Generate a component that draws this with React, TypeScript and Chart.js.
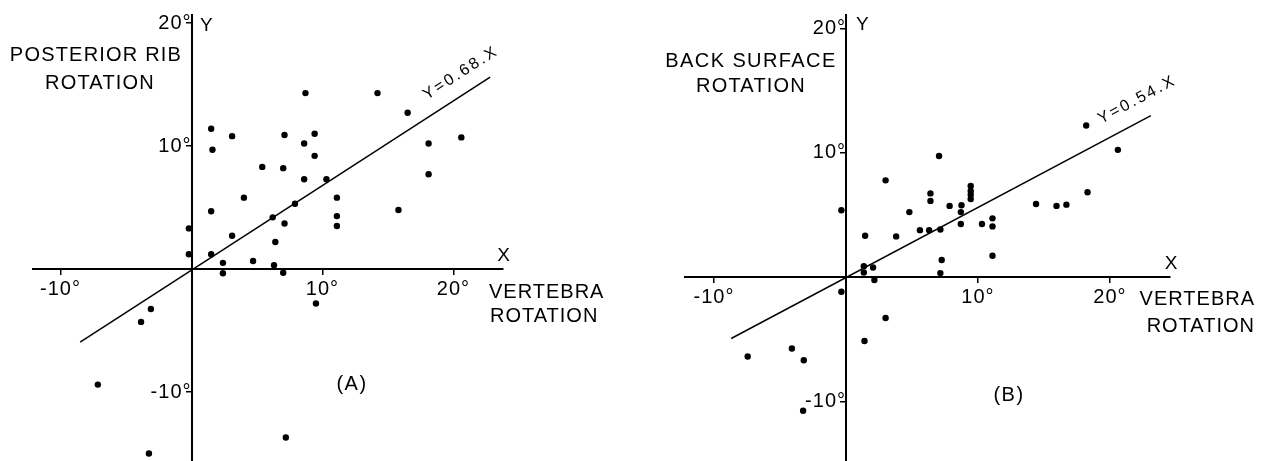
import { useEffect, useRef } from 'react';
import { Chart, registerables } from 'chart.js';

Chart.register(...registerables);

const FONT = '"Liberation Sans", Arial, Helvetica, sans-serif';

// ---- Panel A: vertebra rotation (x) vs posterior rib rotation (y)
const ribVertebra = [8.7, 1.5, 3.1, 7.1, 9.4, 1.6, 8.6, 9.4, 5.4, 7.0, 8.6, 10.3, 4.0, 11.1, 1.5, 7.9, 6.2, 7.1, 11.1, 11.1, -0.2, 3.1, 6.4, -0.2, 1.5, 2.4, 4.7, 6.3, 2.4, 7.0, 14.2, 16.5, 18.1, 20.6, 18.1, 15.8, 9.5, -3.1, -3.85, -7.15, -3.25, 7.2];
const ribRotation = [14.3, 11.4, 10.8, 10.9, 11.0, 9.7, 10.2, 9.2, 8.3, 8.2, 7.3, 7.3, 5.8, 5.8, 4.7, 5.3, 4.2, 3.7, 4.3, 3.5, 3.3, 2.7, 2.2, 1.2, 1.2, 0.5, 0.65, 0.3, -0.35, -0.3, 14.3, 12.7, 10.2, 10.7, 7.7, 4.8, -2.8, -3.25, -4.3, -9.4, -15.0, -13.7];
const ribFitX = [-8.5, 22.8];
const ribFitY = [-5.95, 15.6];
const ribEquation = 'Y=0.68.X';

// ---- Panel B: vertebra rotation (x) vs back surface rotation (y)
const surfVertebra = [7.05, 3.0, -0.35, 6.4, 6.4, 4.8, 7.85, 8.75, 8.7, 9.45, 9.45, 9.45, 9.45, 1.45, 3.8, 5.6, 6.3, 7.15, 8.7, 10.3, 11.1, 11.1, 11.1, 7.25, 7.15, 1.35, 2.05, 1.35, 2.15, -0.35, 3.0, 1.4, -4.1, -7.45, -3.2, -3.25, 18.2, 20.6, 14.4, 15.95, 16.7, 18.3];
const surfRotation = [9.75, 7.8, 5.4, 6.75, 6.15, 5.25, 5.75, 5.8, 5.25, 7.35, 6.95, 6.65, 6.3, 3.35, 3.3, 3.8, 3.8, 3.85, 4.3, 4.3, 4.75, 4.1, 1.75, 1.4, 0.35, 0.9, 0.8, 0.4, -0.2, -1.15, -3.25, -5.1, -5.7, -6.35, -6.65, -10.7, 12.2, 10.25, 5.9, 5.75, 5.85, 6.85];
const surfFitX = [-8.7, 23.1];
const surfFitY = [-4.9, 13.0];
const surfEquation = 'Y=0.54.X';

const axisTicks = [-10, 10, 20];

type TextItem = { text: string; x: number; y: number; align: CanvasTextAlign; size: number; ls: number };

const annotPlugin = {
  id: 'annot',
  beforeDraw(chart: any) {
    (chart.ctx as any).letterSpacing = '1px';
  },
  afterDraw(chart: any, _args: any, opts: any) {
    const ctx = chart.ctx as CanvasRenderingContext2D;
    ctx.save();
    ctx.fillStyle = '#000';
    ctx.textBaseline = 'middle';
    for (const t of opts.texts as TextItem[]) {
      ctx.font = `${t.size}px ${FONT}`;
      (ctx as any).letterSpacing = `${t.ls}px`;
      ctx.textAlign = t.align;
      ctx.fillText(t.text, t.x, t.y);
    }
    const xs = chart.scales.x;
    const ys = chart.scales.y;
    const [x0, x1] = opts.fitX;
    const [y0, y1] = opts.fitY;
    const p0x = xs.getPixelForValue(x0), p0y = ys.getPixelForValue(y0);
    const p1x = xs.getPixelForValue(x1), p1y = ys.getPixelForValue(y1);
    const ang = Math.atan2(p1y - p0y, p1x - p0x);
    const f = (opts.eqAnchor - x0) / (x1 - x0);
    const ax = p0x + f * (p1x - p0x);
    const ay = p0y + f * (p1y - p0y);
    ctx.translate(ax, ay);
    ctx.rotate(ang);
    ctx.font = `16px ${FONT}`;
    (ctx as any).letterSpacing = '2.5px';
    ctx.textAlign = 'left';
    ctx.textBaseline = 'alphabetic';
    ctx.fillText(opts.eq, 0, -opts.eqOffset);
    ctx.restore();
    (ctx as any).letterSpacing = '0px';
  },
};

type PanelProps = {
  left: number;
  width: number;
  xs: number[];
  ys: number[];
  fitX: number[];
  fitY: number[];
  xMin: number;
  xMax: number;
  yMin: number;
  yMax: number;
  padding: { left: number; right: number; top: number; bottom: number };
  eq: string;
  eqAnchor: number;
  eqOffset: number;
  texts: TextItem[];
};

function Panel(p: PanelProps) {
  const ref = useRef<HTMLCanvasElement | null>(null);
  useEffect(() => {
    if (!ref.current) return;
    const points = p.xs.map((x, i) => ({ x, y: p.ys[i] }));
    const fit = p.fitX.map((x, i) => ({ x, y: p.fitY[i] }));
    const scaleCommon = (axisId: string) => ({
      type: 'linear' as const,
      grid: { display: true, drawOnChartArea: false, drawTicks: true, tickLength: 5, color: '#000', lineWidth: 1.5 },
      border: { display: true, color: '#000', width: 2 },
      afterBuildTicks: (scale: any) => {
        scale.ticks = axisTicks.map((v) => ({ value: v }));
      },
      afterFit: (scale: any) => {
        scale.paddingTop = 0;
        scale.paddingBottom = 0;
        scale.paddingLeft = 0;
        scale.paddingRight = 0;
      },
      ticks: {
        autoSkip: false,
        maxRotation: 0,
        minRotation: 0,
        color: '#000',
        font: { family: FONT, size: 20 },
        padding: axisId === 'x' ? 3 : 0,
        callback: (v: any) => `${v}°`,
      },
    });
    const chart = new Chart(ref.current, {
      type: 'scatter',
      data: {
        datasets: [
          {
            type: 'scatter',
            data: points,
            pointRadius: 3.2,
            pointBackgroundColor: '#000',
            pointBorderWidth: 0,
          },
          {
            type: 'line',
            data: fit,
            borderColor: '#000',
            borderWidth: 1.5,
            pointRadius: 0,
            fill: false,
            tension: 0,
          },
        ],
      } as any,
      options: {
        responsive: false,
        animation: false,
        events: [],
        layout: { padding: p.padding, autoPadding: false },
        plugins: {
          legend: { display: false },
          tooltip: { enabled: false },
          annot: { texts: p.texts, fitX: p.fitX, fitY: p.fitY, eq: p.eq, eqAnchor: p.eqAnchor, eqOffset: p.eqOffset },
        } as any,
        scales: {
          x: { ...scaleCommon('x'), min: p.xMin, max: p.xMax, position: { y: 0 } } as any,
          y: { ...scaleCommon('y'), min: p.yMin, max: p.yMax, position: { x: 0 } } as any,
        },
      },
      plugins: [annotPlugin],
    });
    return () => chart.destroy();
  }, []);
  return (
    <canvas
      ref={ref}
      width={p.width}
      height={461}
      style={{ position: 'absolute', left: p.left, top: 0, width: p.width, height: 461 }}
    />
  );
}

export default function App() {
  return (
    <div style={{ position: 'fixed', left: 0, top: 0, width: 1273, height: 461, background: '#fff', overflow: 'hidden' }}>
      <Panel
        left={0}
        width={640}
        xs={ribVertebra}
        ys={ribRotation}
        fitX={ribFitX}
        fitY={ribFitY}
        xMin={-12.1}
        xMax={23.78}
        yMin={-15.61}
        yMax={20.65}
        padding={{ left: 33, right: 137, top: 15, bottom: 0 }}
        eq={ribEquation}
        eqAnchor={18.6}
        eqOffset={15}
        texts={[
          { text: 'POSTERIOR RIB', x: 96, y: 55, align: 'center', size: 20, ls: 1.2 },
          { text: 'ROTATION', x: 100, y: 83, align: 'center', size: 20, ls: 1.2 },
          { text: 'Y', x: 200, y: 26, align: 'left', size: 19, ls: 0 },
          { text: 'X', x: 503.5, y: 256, align: 'center', size: 19, ls: 0 },
          { text: 'VERTEBRA', x: 489, y: 292, align: 'left', size: 20, ls: 1 },
          { text: 'ROTATION', x: 490, y: 316, align: 'left', size: 20, ls: 1 },
          { text: '(A)', x: 352, y: 384, align: 'center', size: 20, ls: 1.5 },
        ]}
      />
      <Panel
        left={640}
        width={633}
        xs={surfVertebra}
        ys={surfRotation}
        fitX={surfFitX}
        fitY={surfFitY}
        xMin={-12.2}
        xMax={24.55}
        yMin={-14.74}
        yMax={21.08}
        padding={{ left: 45, right: 103, top: 15, bottom: 0 }}
        eq={surfEquation}
        eqAnchor={19.9}
        eqOffset={16}
        texts={[
          { text: 'BACK SURFACE', x: 111, y: 61, align: 'center', size: 20, ls: 1.4 },
          { text: 'ROTATION', x: 111, y: 86, align: 'center', size: 20, ls: 1.2 },
          { text: 'Y', x: 216, y: 25, align: 'left', size: 19, ls: 0 },
          { text: 'X', x: 531, y: 264, align: 'center', size: 19, ls: 0 },
          { text: 'VERTEBRA', x: 615, y: 299, align: 'right', size: 20, ls: 1 },
          { text: 'ROTATION', x: 615, y: 326, align: 'right', size: 20, ls: 1 },
          { text: '(B)', x: 369, y: 395, align: 'center', size: 20, ls: 1.5 },
        ]}
      />
    </div>
  );
}
